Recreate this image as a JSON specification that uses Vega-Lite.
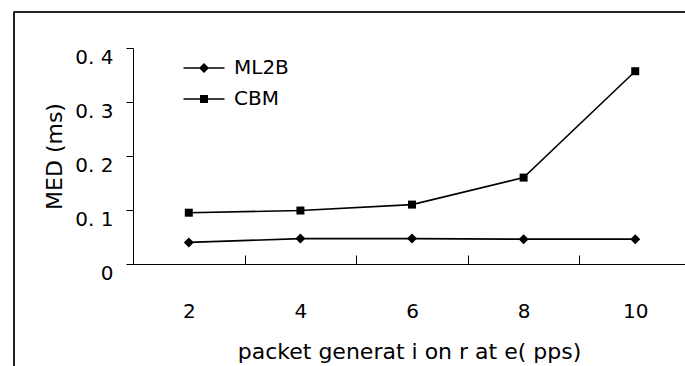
{
  "$schema": "https://vega.github.io/schema/vega-lite/v6.json",
  "width": 552,
  "height": 216,
  "autosize": "none",
  "padding": {"left": 133, "top": 48, "right": 0, "bottom": 102},
  "background": "white",
  "config": {"view": {"stroke": null}, "font": "DejaVu Sans"},
  "data": {
    "values": [
      {"rate": 2, "series": "ML2B", "med": 0.040},
      {"rate": 4, "series": "ML2B", "med": 0.047},
      {"rate": 6, "series": "ML2B", "med": 0.047},
      {"rate": 8, "series": "ML2B", "med": 0.046},
      {"rate": 10, "series": "ML2B", "med": 0.046},
      {"rate": 2, "series": "CBM", "med": 0.095},
      {"rate": 4, "series": "CBM", "med": 0.099},
      {"rate": 6, "series": "CBM", "med": 0.110},
      {"rate": 8, "series": "CBM", "med": 0.160},
      {"rate": 10, "series": "CBM", "med": 0.357}
    ]
  },
  "resolve": {"scale": {"shape": "independent"}},
  "layer": [
    {
      "mark": {"type": "rule", "clip": false, "color": "#222222", "strokeWidth": 1.2},
      "encoding": {
        "x": {"datum": -1.136, "type": "quantitative"},
        "y": {"datum": 0.4667, "type": "quantitative"},
        "y2": {"datum": -0.3}
      }
    },
    {
      "mark": {"type": "rule", "clip": false, "color": "#222222", "strokeWidth": 1.2},
      "encoding": {
        "x": {"datum": -1.136, "type": "quantitative"},
        "x2": {"datum": 11.5},
        "y": {"datum": 0.4667, "type": "quantitative"}
      }
    },
    {
      "mark": {"type": "line", "color": "black", "strokeWidth": 1.6},
      "encoding": {
        "x": {
          "field": "rate",
          "type": "quantitative",
          "scale": {"domain": [1, 10.892], "nice": false, "zero": false},
          "axis": {
            "title": "packet  generat i on  r at e( pps)",
            "titleFont": "DejaVu Sans",
            "titleFontSize": 22,
            "titleFontWeight": "normal",
            "titleColor": "black",
            "titlePadding": 20,
            "titleX": 276,
            "values": [1, 2, 3, 4, 5, 6, 7, 8, 9, 10],
            "format": "d",
            "labelExpr": "datum.value % 2 === 0 ? datum.label : ''",
            "labelOverlap": false,
            "labelFlush": false,
            "labelFontSize": 20,
            "labelColor": "black",
            "labelPadding": 46,
            "tickSize": -9,
            "tickWidth": 1,
            "tickColor": {"condition": {"test": "datum.value % 2 === 1", "value": "black"}, "value": "transparent"},
            "domainColor": "black",
            "grid": false
          }
        },
        "y": {
          "field": "med",
          "type": "quantitative",
          "scale": {"domain": [0, 0.4], "nice": false},
          "axis": {
            "title": "MED (ms)",
            "titleFontSize": 22,
            "titleFontWeight": "normal",
            "titleColor": "black",
            "titlePadding": 8,
            "values": [0, 0.1, 0.2, 0.3, 0.4],
            "labelExpr": "datum.value === 0 ? '0' : replace(format(datum.value, '.1f'), '.', '. ')",
            "labelFontSize": 20,
            "labelColor": "black",
            "labelPadding": 13,
            "labelOffset": 9,
            "tickSize": 7,
            "tickColor": "black",
            "domainColor": "black",
            "grid": false
          }
        },
        "detail": {"field": "series"}
      }
    },
    {
      "mark": {"type": "point", "filled": true, "fill": "black", "opacity": 1, "size": 100},
      "encoding": {
        "x": {"field": "rate", "type": "quantitative"},
        "y": {"field": "med", "type": "quantitative"},
        "shape": {
          "field": "series",
          "type": "nominal",
          "scale": {
            "domain": ["ML2B", "CBM"],
            "range": ["M-1,0L0,-1L1,0L0,1Z", "M-0.8,-0.8H0.8V0.8H-0.8Z"]
          },
          "legend": null
        }
      }
    },
    {
      "mark": {"type": "point", "filled": true, "fill": "black", "opacity": 1, "size": 0},
      "encoding": {
        "x": {"field": "rate", "type": "quantitative"},
        "y": {"field": "med", "type": "quantitative"},
        "shape": {
          "field": "series",
          "type": "nominal",
          "scale": {
            "domain": ["ML2B", "CBM"],
            "range": ["M-4.1,-0.15H4.1V0.15H-4.1ZM-1,0L0,-1L1,0L0,1Z", "M-4.1,-0.15H4.1V0.15H-4.1ZM-0.8,-0.8H0.8V0.8H-0.8Z"]
          },
          "legend": {
            "title": null,
            "orient": "none",
            "legendX": 61,
            "legendY": 10,
            "padding": 0,
            "symbolSize": 100,
            "symbolFillColor": "black",
            "symbolOpacity": 1,
            "labelFontSize": 20,
            "labelColor": "black",
            "labelOffset": 20,
            "rowPadding": 11,
            "labelBaseline": "middle"
          }
        }
      }
    }
  ]
}
